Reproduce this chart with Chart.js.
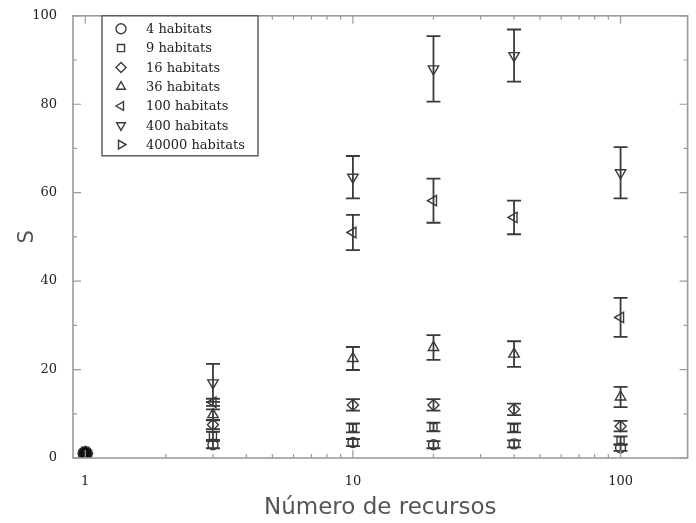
<!DOCTYPE html>
<html>
<head>
<meta charset="utf-8">
<script src="https://cdn.jsdelivr.net/npm/chart.js@4.4.1/dist/chart.umd.min.js"></script>
<style>
  html, body { margin: 0; padding: 0; background: #fff; }
  #wrap { width: 696px; height: 523px; }
</style>
</head>
<body>
<div id="wrap"><canvas id="chart" width="696" height="523"></canvas></div>
<script>
// numero de recursos
const recursos = [1, 3, 10, 20, 40, 100];

// S per habitat count
const labels = ['4 habitats', '9 habitats', '16 habitats', '36 habitats', '100 habitats', '400 habitats', '40000 habitats'];
const s4     = [1, 3.0, 3.5, 3.0, 3.2, 2.3];
const s9     = [1, 5.0, 6.8, 7.0, 6.8, 4.0];
const s16    = [1, 7.5, 12.0, 12.0, 11.0, 7.2];
const s36    = [1, 9.8, 22.5, 25.0, 23.5, 13.8];
const s100   = [1, 12.6, 51.0, 58.2, 54.4, 31.8];
const s400   = [1, 17.0, 63.5, 88.0, 91.0, 64.5];
const s40000 = [1];

// half-width of error bars
const e4     = [0, 0.8, 0.8, 0.8, 0.8, 0.7];
const e9     = [0, 0.9, 1.0, 1.0, 1.0, 0.9];
const e16    = [0, 1.0, 1.3, 1.3, 1.3, 1.2];
const e36    = [0, 1.2, 2.6, 2.8, 2.9, 2.3];
const e100   = [0, 0.8, 4.0, 5.0, 3.8, 4.4];
const e400   = [0, 4.3, 4.8, 7.4, 5.9, 5.8];
const e40000 = [0];

const yTicks = [0, 20, 40, 60, 80, 100];
const xTicks = [1, 10, 100];

const markers = [
  { style: 'circle', rot: 0, r: 5 },
  { style: 'rect', rot: 0, r: 5 },
  { style: 'rectRot', rot: 0, r: 5.5 },
  { style: 'triangle', rot: 0, r: 6 },
  { style: 'triangle', rot: 270, r: 6 },
  { style: 'triangle', rot: 180, r: 6 },
  { style: 'triangle', rot: 90, r: 6 }
];
const seriesS = [s4, s9, s16, s36, s100, s400, s40000];
const seriesE = [e4, e9, e16, e36, e100, e400, e40000];

const ink = '#3a3a3a';
const axisGray = '#9a9a9a';
const serif = '"DejaVu Serif", "Liberation Serif", serif';
const sans = '"DejaVu Sans", "Liberation Sans", sans-serif';

const datasets = seriesS.map((vals, i) => ({
  label: labels[i],
  data: vals.map((v, j) => ({ x: recursos[j], y: v })),
  err: seriesE[i],
  pointStyle: markers[i].style,
  rotation: markers[i].rot,
  radius: ctx => (ctx.raw && ctx.raw.x === 1) ? 7 : markers[i].r,
  borderWidth: 1.4,
  borderColor: ink,
  backgroundColor: ctx => (ctx.raw && ctx.raw.x === 1) ? '#111' : 'rgba(0,0,0,0)',
  showLine: false
}));

// error bars, inward ticks, frame and boxed legend
const decorPlugin = {
  id: 'decor',
  beforeDatasetsDraw(chart) {
    const { ctx } = chart;
    const xs = chart.scales.x, ys = chart.scales.y;
    ctx.save();
    ctx.strokeStyle = ink;
    ctx.lineWidth = 1.8;
    chart.data.datasets.forEach(ds => {
      ds.data.forEach((p, j) => {
        const e = ds.err[j];
        if (!e) return;
        const px = xs.getPixelForValue(p.x);
        const top = ys.getPixelForValue(p.y + e);
        const bot = ys.getPixelForValue(p.y - e);
        ctx.beginPath();
        ctx.moveTo(px, top); ctx.lineTo(px, bot);
        ctx.moveTo(px - 7, top); ctx.lineTo(px + 7, top);
        ctx.moveTo(px - 7, bot); ctx.lineTo(px + 7, bot);
        ctx.stroke();
      });
    });
    ctx.restore();
  },
  afterDraw(chart) {
    const { ctx, chartArea: a } = chart;
    const xs = chart.scales.x, ys = chart.scales.y;
    ctx.save();
    ctx.strokeStyle = axisGray;
    ctx.lineWidth = 1.6;
    ctx.strokeRect(a.left, a.top, a.right - a.left, a.bottom - a.top);

    ctx.lineWidth = 1.2;
    ctx.beginPath();
    for (let v = 0; v <= 100; v += 10) {
      const py = ys.getPixelForValue(v);
      const len = v % 20 === 0 ? 8 : 4;
      ctx.moveTo(a.left, py); ctx.lineTo(a.left + len, py);
      ctx.moveTo(a.right, py); ctx.lineTo(a.right - len, py);
    }
    xTicks.forEach(dec => {
      for (let k = 1; k <= 9; k++) {
        const v = dec * k;
        if (v > xs.max) continue;
        const px = xs.getPixelForValue(v);
        const len = k === 1 ? 8 : 4;
        ctx.moveTo(px, a.bottom); ctx.lineTo(px, a.bottom - len);
        ctx.moveTo(px, a.top); ctx.lineTo(px, a.top + len);
      }
    });
    ctx.stroke();

    // legend box
    const bx = 102, by = a.top, bw = 156, bh = 140;
    ctx.fillStyle = '#fff';
    ctx.fillRect(bx, by, bw, bh);
    ctx.strokeStyle = '#555';
    ctx.lineWidth = 1.4;
    ctx.strokeRect(bx, by, bw, bh);
    ctx.font = '13px ' + serif;
    ctx.textBaseline = 'middle';
    chart.data.datasets.forEach((ds, i) => {
      const rowY = by + 13 + i * 19.3;
      ctx.strokeStyle = ink;
      ctx.fillStyle = 'rgba(0,0,0,0)';
      Chart.helpers.drawPoint(ctx, {
        pointStyle: ds.pointStyle, rotation: ds.rotation,
        radius: 5, borderWidth: 1.2
      }, 121, rowY);
      ctx.fillStyle = '#222';
      ctx.fillText(ds.label, 146, rowY + 1);
    });
    ctx.restore();
  }
};

new Chart(document.getElementById('chart'), {
  type: 'scatter',
  data: { datasets },
  options: {
    responsive: false,
    animation: false,
    layout: { padding: { top: 15, right: 6, left: 0, bottom: 0 } },
    plugins: { legend: { display: false }, tooltip: { enabled: false } },
    scales: {
      x: {
        type: 'logarithmic',
        min: 0.9,
        max: 178,
        border: { display: false },
        grid: { display: false },
        afterBuildTicks: sc => { sc.ticks = xTicks.map(v => ({ value: v })); },
        afterFit: sc => { sc.height = 65; },
        ticks: {
          autoSkip: false,
          maxRotation: 0,
          padding: 8,
          color: '#222',
          font: { family: serif, size: 13 },
          callback: v => String(v)
        },
        title: {
          display: true,
          text: 'Número de recursos',
          color: '#555',
          padding: { top: 0, bottom: 1 },
          font: { family: sans, size: 23 }
        }
      },
      y: {
        min: 0,
        max: 100,
        border: { display: false },
        grid: { display: false },
        afterBuildTicks: sc => { sc.ticks = yTicks.map(v => ({ value: v })); },
        afterFit: sc => { sc.width = 73; },
        ticks: {
          padding: 8,
          color: '#222',
          font: { family: serif, size: 13 }
        },
        title: {
          display: true,
          text: 'S',
          color: '#555',
          padding: { top: 15, bottom: 0 },
          font: { family: sans, size: 21 }
        }
      }
    }
  },
  plugins: [decorPlugin]
});
</script>
</body>
</html>
